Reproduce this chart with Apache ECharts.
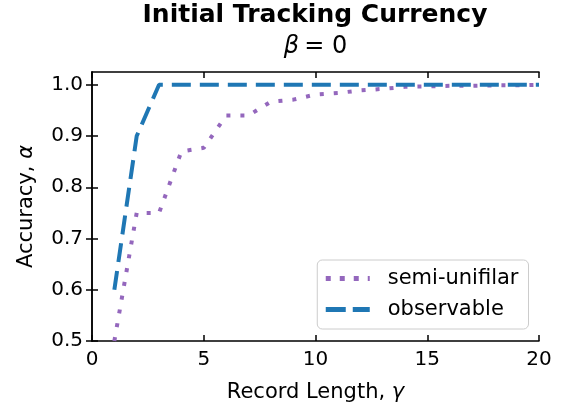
<!DOCTYPE html>
<html><head><meta charset="utf-8">
<script src="https://cdn.jsdelivr.net/npm/echarts@6/dist/echarts.min.js"></script>
<style>html,body{margin:0;padding:0;background:#fff}#c{width:566px;height:413px}</style>
</head><body><div id="c"></div>
<script>
const recordLength = [1,2,3,4,5,6,7,8,9,10,11,12,13,14,15,16,17,18,19,20];
const semiUnifilar = [0.5,0.75,0.75,0.87,0.877,0.94,0.94,0.967,0.971,0.981,0.984,0.989,0.992,0.996,0.997,0.998,0.998,0.999,0.999,1.0];
const observable   = [0.6,0.9,1.0,1.0,1.0,1.0,1.0,1.0,1.0,1.0,1.0,1.0,1.0,1.0,1.0,1.0,1.0,1.0,1.0,1.0];
const xTicks = [0,5,10,15,20];
const yTicks = [0.5,0.6,0.7,0.8,0.9,1.0];
const seriesNames = ['semi-unifilar','observable'];

const FONT = 'DejaVu Sans';
const chart = echarts.init(document.getElementById('c'), null, {renderer:'canvas'});
const axisLine = {show:true, lineStyle:{color:'#000', width:1.5}};
const tick = {show:true, inside:true, length:6, lineStyle:{color:'#000', width:1.5}};
const pairs = ys => recordLength.map((x,i)=>[x, ys[i]]);
const nameRich = {
  fontFamily:FONT, fontSize:21, color:'#000',
  rich:{n:{fontFamily:FONT, fontSize:21, color:'#000'},
        i:{fontFamily:FONT, fontSize:21, color:'#000', fontStyle:'italic'}}
};

const dottedIcon = 'path://M0 0h5v5h-5z M14 0h5v5h-5z M28 0h5v5h-5z M42 0h2v5h-2z';
const dashedIcon = 'path://M0 0h20v5h-20z M27 0h17v5h-17z';

chart.setOption({
  animation:false,
  backgroundColor:'#fff',
  title:[
    {text:'Initial Tracking Currency', left:315, textAlign:'center', top:3, padding:0,
     textStyle:{fontFamily:FONT, fontSize:25, fontWeight:'bold', color:'#000'}},
    {text:'{b|β} {n|= 0}', left:315.5, textAlign:'center', top:35, padding:0,
     textStyle:{fontWeight:'normal',
                rich:{b:{fontFamily:FONT, fontSize:24, fontStyle:'italic', fontWeight:'normal', color:'#000'},
                      n:{fontFamily:FONT, fontSize:24, fontWeight:'normal', color:'#000'}}}}
  ],
  grid:{left:92, right:27, top:72, bottom:72, show:false},
  legend:{
    data:[{name:seriesNames[0], icon:dottedIcon}, {name:seriesNames[1], icon:dashedIcon}],
    orient:'vertical', right:37.5, bottom:84,
    backgroundColor:'#fff', borderColor:'#cccccc', borderWidth:1, borderRadius:5,
    padding:[8,10,9,8.5], itemGap:10, itemWidth:44, itemHeight:5,
    itemStyle:{borderWidth:0},
    formatter:n=>'{t|'+n+'}',
    textStyle:{fontFamily:FONT, fontSize:21, color:'#000',
               rich:{t:{fontFamily:FONT, fontSize:21, color:'#000', lineHeight:21, padding:[0,0,0,13]}}}
  },
  xAxis:[
    {type:'value', min:0, max:20, interval:5, position:'bottom',
     name:'{n|Record Length, }{i|γ}', nameLocation:'middle', nameGap:41,
     nameTextStyle:nameRich,
     axisLine, axisTick:tick, splitLine:{show:false},
     axisLabel:{customValues:xTicks, fontFamily:FONT, fontSize:20, color:'#000', margin:9}},
    {type:'value', min:0, max:20, interval:5, position:'top',
     axisLine, axisTick:tick, splitLine:{show:false}, axisLabel:{show:false}}
  ],
  yAxis:[
    {type:'value', min:0.5, max:1.025, position:'left',
     name:'{n|Accuracy, }{i|α}', nameLocation:'middle', nameGap:55,
     nameTextStyle:nameRich,
     axisLine, axisTick:Object.assign({customValues:yTicks}, tick), splitLine:{show:false},
     axisLabel:{customValues:yTicks, fontFamily:FONT, fontSize:20, color:'#000', margin:9,
                formatter:v=>v.toFixed(1)}},
    {type:'value', min:0.5, max:1.025, position:'right',
     axisLine, axisTick:Object.assign({customValues:yTicks}, tick), splitLine:{show:false},
     axisLabel:{show:false}}
  ],
  series:[
    {name:seriesNames[0], type:'line', data:pairs(semiUnifilar), symbol:'none', z:2,
     itemStyle:{color:'#9467bd'},
     lineStyle:{color:'#9467bd', width:4, type:[4,10], cap:'butt'}},
    {name:seriesNames[1], type:'line', data:pairs(observable), symbol:'none', z:3,
     itemStyle:{color:'#1f77b4'},
     lineStyle:{color:'#1f77b4', width:4, type:[19,9], cap:'butt'}}
  ]
});
</script></body></html>
